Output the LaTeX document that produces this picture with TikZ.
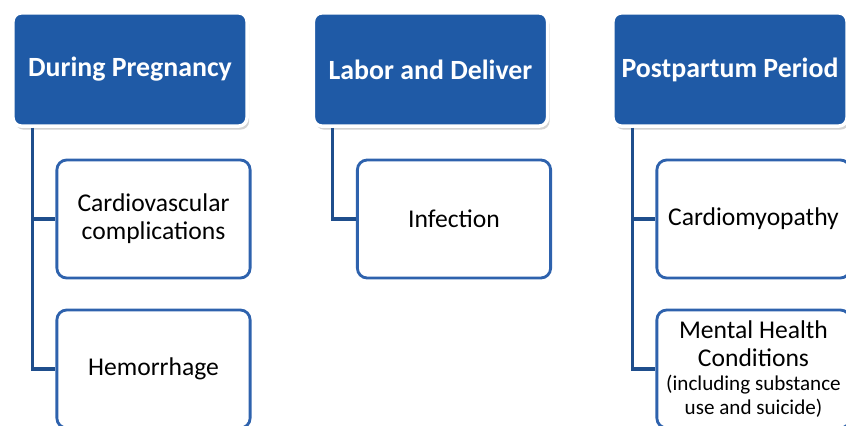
\documentclass[tikz,border=0pt]{standalone}
\usepackage{fontspec}
\setmainfont{Carlito}
\usetikzlibrary{shadows}
\definecolor{headblue}{HTML}{1F5AA6}
\definecolor{edgeblue}{HTML}{2E62AD}
\definecolor{linkblue}{HTML}{1F4E8C}
\tikzset{
  phase/.style={draw=white, line width=2.5pt, fill=headblue, rounded corners=6pt,
    minimum width=5.85cm, minimum height=2.83cm, text=white, align=center,
    font=\bfseries\fontsize{19.8}{23}\selectfont,
    drop shadow={opacity=0.35, shadow xshift=1.5pt, shadow yshift=-2.5pt}},
  cause/.style={draw=edgeblue, line width=2pt, fill=white, rounded corners=7pt,
    minimum width=4.83cm, minimum height=2.95cm, align=center,
    font=\fontsize{18.2}{20}\selectfont},
  note/.style={font=\fontsize{15}{17}\selectfont},
  link/.style={draw=linkblue, line width=2.2pt},
}
\begin{document}
\begin{tikzpicture}[x=0.025cm, y=-0.025cm]
  \useasboundingbox (0,0) rectangle (846,426);
  \node[phase] (preg) at (130,69.5) {During Pregnancy};
  \node[phase] (labor) at (430.5,69.5) {Labor and Deliver};
  \node[phase] (post) at (730,69.5) {Postpartum Period};
  \node[cause] (cardio) at (153.5,219) {Cardiovascular\\complications};
  \node[cause] (hemo) at (153.5,369) {Hemorrhage};
  \node[cause] (infect) at (454,219) {Infection};
  \node[cause] (myo) at (753.5,219) {Cardiomyopathy};
  \node[cause] (mental) at (753.5,369) {Mental Health\\Conditions\\[-3pt]
    {\fontsize{15}{17}\selectfont (including substance}\\[-3pt]
    {\fontsize{15}{17}\selectfont use and suicide)}};
  \draw[link] ([xshift=0.525cm]preg.south west) |- (cardio.west);
  \draw[link] ([xshift=0.525cm]preg.south west) |- (hemo.west);
  \draw[link] ([xshift=0.525cm]labor.south west) |- (infect.west);
  \draw[link] ([xshift=0.525cm]post.south west) |- (myo.west);
  \draw[link] ([xshift=0.525cm]post.south west) |- (mental.west);
\end{tikzpicture}
\end{document}
